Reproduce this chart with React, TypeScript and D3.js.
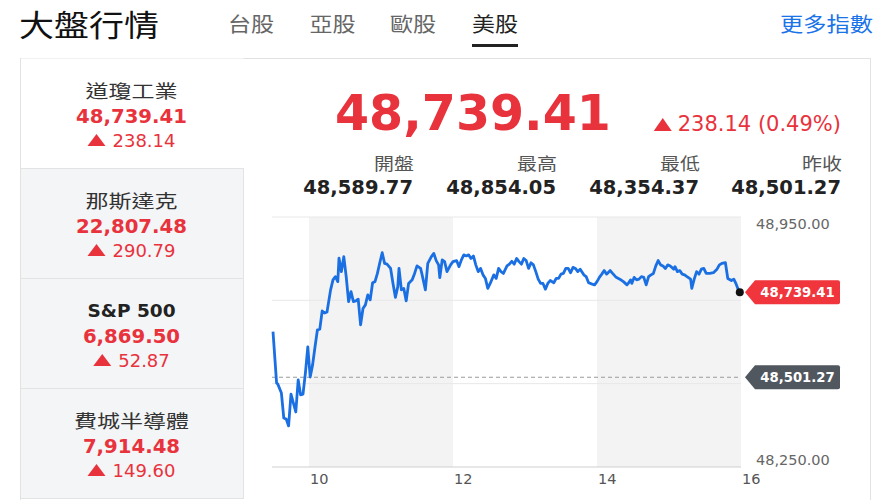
import React from "react";
import * as d3 from "d3";

// ---------- data ----------
const tabs = ["台股", "亞股", "歐股", "美股"];
const activeTab = "美股";
const indexNames = ["道瓊工業", "那斯達克", "S&P 500", "費城半導體"];
const indexValues = ["48,739.41", "22,807.48", "6,869.50", "7,914.48"];
const indexChanges = ["238.14", "290.79", "52.87", "149.60"];
const lastPrice = "48,739.41";
const priceChange = "238.14 (0.49%)";
const statLabels = ["開盤", "最高", "最低", "昨收"];
const statValues = ["48,589.77", "48,854.05", "48,354.37", "48,501.27"];
const prevClose = 48501.27;
const yDomain = [48250, 48950];
const hourTicks = [30, 150, 270, 390];
const hourLabels = ["10", "12", "14", "16"];
const shadedBands = [[30, 150], [270, 390]];

// minutes after 9:30
const minutes = [
  0, 3, 4, 7, 9, 11, 13, 15, 17, 19,
  21, 23, 25, 27, 29, 31, 33, 35, 37, 39,
  41, 43, 45, 48, 50, 52, 54, 55, 57, 59,
  61, 63, 65, 67, 69, 71, 73, 75, 77, 79,
  81, 83, 85, 87, 89, 91, 93, 95, 98, 100,
  102, 104, 105, 107, 109, 111, 113, 116, 118, 120,
  123, 124, 127, 129, 132, 134, 136, 138, 139, 141,
  143, 145, 148, 150, 153, 155, 157, 159, 161, 163,
  165, 167, 169, 171, 173, 175, 177, 179, 181, 184,
  186, 188, 190, 192, 195, 197, 199, 201, 203, 205,
  207, 209, 211, 213, 215, 217, 219, 221, 223, 225,
  227, 229, 231, 234, 236, 238, 240, 242, 244, 246,
  248, 250, 252, 254, 256, 259, 261, 263, 266, 268,
  270, 272, 274, 276, 278, 281, 283, 286, 289, 292,
  295, 296, 298, 299, 301, 303, 305, 307, 309, 311,
  313, 315, 317, 319, 321, 323, 325, 327, 329, 331,
  334, 335, 337, 339, 341, 343, 345, 348, 349, 351,
  353, 355, 357, 359, 361, 364, 367, 370, 372, 374,
  377, 379, 382, 384, 386, 388, 389,
];
const prices = [
  48629, 48485, 48482, 48457, 48387, 48384, 48365, 48454, 48429, 48404,
  48494, 48452, 48454, 48513, 48586, 48502, 48536, 48586, 48634, 48636,
  48687, 48681, 48684, 48746, 48774, 48783, 48769, 48835, 48797, 48839,
  48783, 48713, 48741, 48713, 48715, 48720, 48648, 48694, 48704, 48732,
  48718, 48766, 48769, 48792, 48822, 48850, 48820, 48818, 48806, 48764,
  48725, 48755, 48806, 48746, 48750, 48715, 48764, 48774, 48792, 48813,
  48806, 48792, 48746, 48820, 48839, 48848, 48828, 48816, 48780, 48830,
  48825, 48797, 48816, 48825, 48828, 48811, 48830, 48844, 48841, 48844,
  48834, 48841, 48816, 48797, 48806, 48788, 48778, 48750, 48764, 48788,
  48778, 48806, 48797, 48792, 48813, 48818, 48826, 48818, 48834, 48825,
  48818, 48834, 48828, 48806, 48822, 48816, 48797, 48776, 48764, 48764,
  48748, 48764, 48772, 48766, 48778, 48778, 48790, 48792, 48806, 48806,
  48794, 48809, 48806, 48797, 48804, 48788, 48783, 48766, 48762, 48760,
  48769, 48781, 48790, 48800, 48790, 48800, 48792, 48781, 48776, 48769,
  48760, 48764, 48774, 48764, 48781, 48774, 48776, 48783, 48781, 48760,
  48783, 48788, 48792, 48813, 48828, 48816, 48813, 48806, 48816, 48813,
  48804, 48811, 48797, 48800, 48790, 48788, 48783, 48776, 48750, 48776,
  48797, 48790, 48804, 48806, 48792, 48792, 48794, 48804, 48816, 48820,
  48822, 48778, 48772, 48776, 48762, 48744, 48739.41,
];

// ---------- style ----------
const FONT = "'DejaVu Sans', 'Noto Sans CJK TC', sans-serif";
const CJK_FONT = "'Noto Sans CJK TC', 'DejaVu Sans', sans-serif";
const RED = "#e8323c";
const BLUE = "#1a6fe3";

let _ctx: CanvasRenderingContext2D | null = null;
function measure(text: string, font: string): number {
  if (!_ctx) _ctx = document.createElement("canvas").getContext("2d");
  if (!_ctx) return text.length * 10;
  _ctx.font = font;
  return _ctx.measureText(text).width;
}

function CJK(props: {
  x: number; y: number; size: number; len: number; anchor?: string; fill: string; weight?: number; children: string;
}) {
  return (
    <text
      x={props.x}
      y={props.y}
      fontSize={props.size}
      fontFamily={CJK_FONT}
      fontWeight={props.weight || 400}
      textLength={props.len}
      lengthAdjust="spacingAndGlyphs"
      textAnchor={props.anchor || "start"}
      dominantBaseline="central"
      fill={props.fill}
    >
      {props.children}
    </text>
  );
}

function Tri({ x, cy, w, h, fill }: { x: number; cy: number; w: number; h: number; fill: string }) {
  return <path d={`M${x},${cy + h / 2}L${x + w},${cy + h / 2}L${x + w / 2},${cy - h / 2}Z`} fill={fill} />;
}

export default function App() {
  const W = 890, H = 500;
  const x = d3.scaleLinear().domain([0, 390]).range([273, 741]);
  const y = d3.scaleLinear().domain(yDomain).range([467, 217]);
  const pts = minutes.map((m, i) => [m, prices[i]] as [number, number]);
  const line = d3.line<[number, number]>().x((d) => x(d[0])).y((d) => y(d[1]));
  const grid = d3.range(4).map((i) => yDomain[0] + ((yDomain[1] - yDomain[0]) * i) / 3);
  const last = pts[pts.length - 1];

  const panelL = 20, panelR = 243, itemH = 110, top0 = 58;
  const panelCx = (panelL + panelR) / 2;
  const statRights = [413, 556, 699, 841];
  const tabCenters = [251, 332.5, 413, 495];
  const nameLens = [92, 92, 0, 115];

  const changeFont = "18px DejaVu Sans";
  const topChangeW = measure(priceChange, "21px DejaVu Sans");

  const tagPath = (cy: number) =>
    `M745,${cy}L755,${cy - 12}L838,${cy - 12}Q840,${cy - 12} 840,${cy - 10}L840,${cy + 10}Q840,${cy + 12} 838,${cy + 12}L755,${cy + 12}Z`;

  return (
    <div style={{ position: "fixed", left: 0, top: 0 }}>
      <svg width={W} height={H} viewBox={`0 0 ${W} ${H}`} style={{ display: "block", background: "#fff" }}>
        {/* header */}
        <CJK x={19} y={23} size={30} len={140} fill="#111">大盤行情</CJK>
        {tabs.map((t, i) => (
          <CJK key={t} x={tabCenters[i]} y={23} size={20} len={46} anchor="middle" fill={t === activeTab ? "#222" : "#666"}>
            {t}
          </CJK>
        ))}
        <rect x={472} y={44} width={46} height={3} fill="#222" />
        <CJK x={873} y={23} size={20} len={93} anchor="end" fill="#1a73e8">更多指數</CJK>

        {/* card */}
        <rect x={20.5} y={58.5} width={850} height={460} fill="#fff" stroke="#e2e2e2" />

        {/* left panel */}
        {indexNames.map((n, i) => {
          const t = top0 + i * itemH;
          const active = i === 0;
          const tw = measure(indexChanges[i], changeFont);
          const gx = panelCx - (18 + 7 + tw) / 2;
          return (
            <g key={n}>
              <rect
                x={panelL + 0.5}
                y={t + 0.5}
                width={panelR - panelL}
                height={itemH}
                fill={active ? "#fff" : "#f4f5f7"}
                stroke={active ? "none" : "#e3e3e3"}
              />
              {nameLens[i] ? (
                <CJK x={panelCx} y={t + 32} size={18} len={nameLens[i]} anchor="middle" fill="#333">
                  {n}
                </CJK>
              ) : (
                <text x={panelCx} y={t + 32} fontSize={18.5} fontWeight={700} fontFamily={FONT} textAnchor="middle" dominantBaseline="central" fill="#222">
                  {n}
                </text>
              )}
              <text x={panelCx} y={t + 58} fontSize={19.7} fontWeight={700} fontFamily={FONT} textAnchor="middle" dominantBaseline="central" fill={RED}>
                {indexValues[i]}
              </text>
              <Tri x={gx} cy={t + 82} w={18} h={12} fill={RED} />
              <text x={gx + 25} y={t + 82} fontSize={18} fontFamily={FONT} dominantBaseline="central" fill={RED}>
                {indexChanges[i]}
              </text>
            </g>
          );
        })}
        <line x1={20.5} x2={20.5} y1={58} y2={500} stroke="#e2e2e2" />

        {/* quote */}
        <text x={335} y={113} fontSize={49} fontWeight={700} fontFamily={FONT} dominantBaseline="central" fill={RED}>
          {lastPrice}
        </text>
        <Tri x={841 - topChangeW - 24} cy={124.5} w={18} h={13} fill={RED} />
        <text x={841} y={124} fontSize={21} fontFamily={FONT} textAnchor="end" dominantBaseline="central" fill={RED}>
          {priceChange}
        </text>
        {statLabels.map((l, i) => (
          <g key={l}>
            <CJK x={statRights[i] + 1} y={162} size={17} len={40} anchor="end" fill="#555">{l}</CJK>
            <text x={statRights[i]} y={187} fontSize={19.5} fontWeight={700} fontFamily={FONT} textAnchor="end" dominantBaseline="central" fill="#222">
              {statValues[i]}
            </text>
          </g>
        ))}

        {/* chart */}
        {shadedBands.map((b, i) => (
          <rect key={i} x={x(b[0])} y={y(yDomain[1])} width={x(b[1]) - x(b[0])} height={y(yDomain[0]) - y(yDomain[1])} fill="#f3f3f3" />
        ))}
        {grid.map((g, i) => (
          <line key={i} x1={x(0) - 1} x2={x(390)} y1={y(g)} y2={y(g)} stroke={i === 0 ? "#cfcfcf" : "#e8e8e8"} strokeWidth={1} />
        ))}
        <line x1={x(0) - 1} x2={x(390)} y1={y(prevClose)} y2={y(prevClose)} stroke="#9a9a9a" strokeDasharray="4,3" strokeWidth={1} />
        <path d={line(pts) || ""} fill="none" stroke={BLUE} strokeWidth={2.8} strokeLinejoin="round" />
        <circle cx={x(last[0])} cy={y(last[1])} r={4} fill="#111" />
        {hourTicks.map((t, i) => (
          <text key={t} x={x(t) + 1} y={479} fontSize={14.5} fontFamily={FONT} dominantBaseline="central" fill="#555">
            {hourLabels[i]}
          </text>
        ))}
        {[yDomain[1], yDomain[0]].map((v, i) => (
          <text key={v} x={756} y={i === 0 ? 224 : 460} fontSize={14.5} fontFamily={FONT} dominantBaseline="central" fill="#666">
            {d3.format(",.2f")(v)}
          </text>
        ))}
        <path d={tagPath(y(last[1]))} fill="#f0353d" />
        <text x={797.5} y={y(last[1])} fontSize={13.2} fontWeight={700} fontFamily={FONT} textAnchor="middle" dominantBaseline="central" fill="#fff">
          {d3.format(",.2f")(last[1])}
        </text>
        <path d={tagPath(y(prevClose))} fill="#51575f" />
        <text x={797.5} y={y(prevClose)} fontSize={13.2} fontWeight={700} fontFamily={FONT} textAnchor="middle" dominantBaseline="central" fill="#fff">
          {d3.format(",.2f")(prevClose)}
        </text>
      </svg>
    </div>
  );
}
